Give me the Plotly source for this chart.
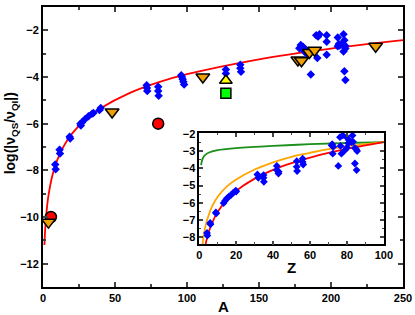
import plotly.graph_objects as go

# ---- main panel data (A vs log ratio) ----
blue_A = [8.5, 8.8, 11.5, 11.8, 18.5, 18.9, 26, 26.3, 27, 29.3, 31.6, 34, 35, 39.2, 40.1,
          72, 72.4, 72.2, 80, 80, 80.3, 96, 96.5, 97, 97.5, 98, 127, 127, 137, 137, 137.5,
          179, 180.5, 178, 181, 182, 186, 189.7, 192, 191, 197, 197, 197, 190.5, 204.7,
          205.4, 204.7, 208.7, 209.3, 208, 210, 208.7, 210, 209.3, 210, 206, 183]
blue_v = [-7.75, -7.95, -7.12, -7.28, -6.56, -6.64, -6.0, -6.08, -5.95, -5.8, -5.68, -5.58, -5.54, -5.42, -5.33,
          -4.35, -4.6, -4.47, -4.42, -4.6, -4.8, -3.92, -4.0, -4.1, -4.2, -4.32, -3.68, -3.85, -3.47, -3.62, -3.78,
          -2.63, -2.7, -2.77, -2.87, -2.8, -3.89, -2.21, -2.17, -2.27, -2.21, -2.49, -3.05, -3.19, -2.31,
          -2.59, -2.68, -2.17, -2.42, -2.55, -2.67, -2.91, -2.78, -3.75, -4.13, -2.65, -3.0]

orange_A = [3.8, 48, 111, 177, 179.5, 185, 188.6, 231]
orange_v = [-10.22, -5.5, -4.0, -3.27, -3.3, -2.95, -2.85, -2.68]

red_A = [5.5, 80]
red_v = [-10.0, -6.0]

yellow_A = [127]
yellow_v = [-4.15]

green_A = [127]
green_v = [-4.7]

fit_A = [1, 1.5, 2, 3, 4, 6, 8, 10, 15, 20, 30, 40, 60, 80, 100, 150, 200, 250]
fit_v = [-11.2, -10.56, -10.1, -9.45, -9.0, -8.35, -7.9, -7.54, -6.9, -6.44, -5.79, -5.34,
         -4.69, -4.23, -3.88, -3.24, -2.78, -2.42]

# ---- inset data (Z vs log ratio) ----
in_Z = [4.2, 4.4, 5.9, 6.1, 9, 9.2, 13.2, 14, 15, 16, 17.3, 18.5, 19.8, 20, 31.5, 32, 34.8, 34.8, 35,
        42, 42, 42.9, 43, 52.8, 52.8, 53, 56, 56, 56.3, 71.7, 72, 72.3, 72.6, 75.3, 76.2, 77.7, 76.5,
        77, 78.9, 79.8, 80.7, 81, 83, 83.3, 84.3, 84.3, 85.2, 85, 85.5, 82.5, 80]
in_v = [-7.75, -7.9, -7.17, -7.25, -6.56, -6.62, -6.02, -5.88, -5.74, -5.65, -5.54, -5.41, -5.29, -5.35,
        -4.36, -4.55, -4.39, -4.55, -4.78, -3.86, -4.1, -4.3, -4.2, -3.59, -3.91, -4.16, -3.44, -3.63, -3.78,
        -2.67, -2.6, -3.15, -2.75, -3.86, -2.19, -2.09, -2.7, -3.15, -2.95, -2.19, -2.55, -2.35, -2.09,
        -2.46, -2.82, -3.72, -4.1, -2.9, -3.0, -2.48, -2.8]

inred_Z = [3.2, 4, 5, 7, 10, 15, 20, 30, 40, 50, 60, 70, 80, 90, 100]
inred_v = [-8.53, -8.14, -7.75, -7.16, -6.53, -5.82, -5.31, -4.6, -4.09, -3.7, -3.38, -3.11, -2.87, -2.67, -2.48]

inorange_Z = [1.8, 2.5, 3.5, 5, 7, 10, 15, 20, 30, 40, 50, 60, 70, 80, 90, 100]
inorange_v = [-8.4, -7.85, -7.3, -6.75, -6.2, -5.65, -5.05, -4.65, -4.07, -3.65, -3.33, -3.1, -2.88,
              -2.72, -2.6, -2.48]

ingreen_Z = [1, 1.5, 2, 3, 5, 10, 20, 30, 40, 60, 80, 100]
ingreen_v = [-3.82, -3.55, -3.4, -3.25, -3.1, -2.95, -2.83, -2.76, -2.7, -2.6, -2.53, -2.48]

FONT = "Liberation Sans, Arial, Helvetica, sans-serif"

fig = go.Figure()

# main panel
fig.add_trace(go.Scatter(x=fit_A, y=fit_v, mode="lines", line=dict(color="#ff0000", width=1.8, shape="spline"),
                         xaxis="x", yaxis="y", showlegend=False))
fig.add_trace(go.Scatter(x=blue_A, y=blue_v, mode="markers",
                         marker=dict(symbol="diamond", size=6.5, color="#0000ff"), showlegend=False))
fig.add_trace(go.Scatter(x=red_A, y=red_v, mode="markers",
                         marker=dict(symbol="circle", size=11, color="#ff0000", line=dict(color="black", width=1.5)),
                         showlegend=False))
fig.add_trace(go.Scatter(x=orange_A, y=orange_v, mode="markers",
                         marker=dict(symbol="triangle-down", size=12, color="#f0a000", line=dict(color="black", width=1.5)),
                         showlegend=False))
fig.add_trace(go.Scatter(x=yellow_A, y=yellow_v, mode="markers",
                         marker=dict(symbol="triangle-up", size=11, color="#ffff00", line=dict(color="black", width=1.5)),
                         showlegend=False))
fig.add_trace(go.Scatter(x=green_A, y=green_v, mode="markers",
                         marker=dict(symbol="square", size=10, color="#00ff00", line=dict(color="black", width=1.5)),
                         showlegend=False))

# inset
fig.add_trace(go.Scatter(x=ingreen_Z, y=ingreen_v, mode="lines", line=dict(color="#1a8f1a", width=1.8, shape="spline"),
                         xaxis="x2", yaxis="y2", showlegend=False))
fig.add_trace(go.Scatter(x=inorange_Z, y=inorange_v, mode="lines", line=dict(color="#ffa500", width=1.8, shape="spline"),
                         xaxis="x2", yaxis="y2", showlegend=False))
fig.add_trace(go.Scatter(x=inred_Z, y=inred_v, mode="lines", line=dict(color="#ff0000", width=1.8, shape="spline"),
                         xaxis="x2", yaxis="y2", showlegend=False))
fig.add_trace(go.Scatter(x=in_Z, y=in_v, mode="markers", marker=dict(symbol="diamond", size=6, color="#0000ff"),
                         xaxis="x2", yaxis="y2", showlegend=False))

tickfont = dict(family=FONT, size=11, color="black", weight="bold")

fig.update_layout(
    width=415, height=315,
    margin=dict(l=43, r=12, t=2, b=28),
    paper_bgcolor="white", plot_bgcolor="white",
    xaxis=dict(domain=[0, 1], range=[0, 250], dtick=50, tick0=0, ticks="inside", ticklen=5, tickwidth=1.5,
               showline=True, linecolor="black", linewidth=2, mirror="ticks", showgrid=False, zeroline=False,
               tickfont=tickfont,
               minor=dict(dtick=25, ticks="inside", ticklen=3, tickwidth=1.5, showgrid=False)),
    yaxis=dict(domain=[0, 1], range=[-13, -1], dtick=2, tick0=0, ticks="inside", ticklen=5, tickwidth=1.5,
               showline=True, linecolor="black", linewidth=2, mirror="ticks", showgrid=False, zeroline=False,
               tickfont=tickfont,
               minor=dict(dtick=1, ticks="inside", ticklen=3, tickwidth=1.5, showgrid=False)),
    xaxis2=dict(domain=[0.434, 0.947], anchor="y2", range=[0, 100], dtick=20, tick0=0, ticks="inside", ticklen=4,
                tickwidth=1.5, showline=True, linecolor="black", linewidth=1.5, mirror="ticks", showgrid=False,
                zeroline=False, tickfont=tickfont,
                minor=dict(dtick=10, ticks="inside", ticklen=2.5, tickwidth=1.2, showgrid=False)),
    yaxis2=dict(domain=[0.152, 0.550], anchor="x2", range=[-8.42, -1.95], dtick=1, tick0=0, ticks="inside", ticklen=4,
                tickwidth=1.5, showline=True, linecolor="black", linewidth=1.5, mirror="ticks", showgrid=False,
                zeroline=False, tickfont=tickfont,
                minor=dict(dtick=0.5, ticks="inside", ticklen=2.5, tickwidth=1.2, showgrid=False)),
    annotations=[
        dict(text="A", xref="paper", yref="paper", x=0.5, y=-0.07, showarrow=False,
             font=dict(family=FONT, size=15, color="black", weight="bold"), xanchor="center", yanchor="middle"),
        dict(text="Z", xref="paper", yref="paper", x=0.691, y=0.071, showarrow=False,
             font=dict(family=FONT, size=15, color="black", weight="bold"), xanchor="center", yanchor="middle"),
        dict(text="log(|ν<sub>QS</sub>/ν<sub>QI</sub>|)", xref="paper", yref="paper", x=-0.088, y=0.55,
             showarrow=False, textangle=-90,
             font=dict(family=FONT, size=14, color="black", weight="bold"), xanchor="center", yanchor="middle"),
    ],
)

fig.write_html("out.html", config={"displayModeBar": False},
               post_script="document.body.style.margin='0';")
